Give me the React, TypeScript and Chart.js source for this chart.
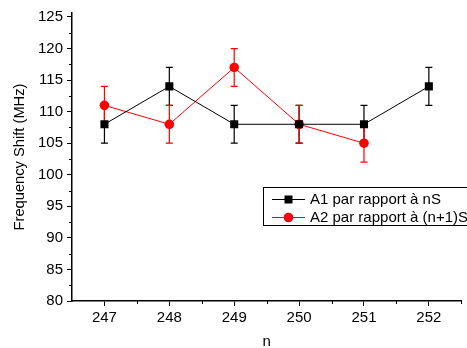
import React, { useEffect, useRef } from "react";
import { Chart, registerables } from "chart.js";

Chart.register(...registerables);

const categories = [247, 248, 249, 250, 251, 252];
const a1Values = [108, 114, 108, 108, 108, 114];
const a1Errors = [3, 3, 3, 3, 3, 3];
const a2Categories = [247, 248, 249, 250, 251];
const a2Values = [111, 108, 117, 108, 105];
const a2Errors = [3, 3, 3, 3, 3];
const yTickValues = [80, 85, 90, 95, 100, 105, 110, 115, 120, 125];
const seriesLabels = ["A1 par rapport à nS", "A2 par rapport à (n+1)S"];
const xTitle = "n";
const yTitle = "Frequency Shift (MHz)";

const FONT = "'Liberation Sans', Arial, sans-serif";

const errorBarPlugin = {
  id: "errorBars",
  beforeDatasetsDraw(chart: any) {
    const ctx = chart.ctx;
    const xs = chart.scales.x;
    const ys = chart.scales.y;
    chart.data.datasets.forEach((ds: any) => {
      const errs: number[] = ds.errors || [];
      ctx.save();
      ctx.strokeStyle = ds.borderColor;
      ctx.lineWidth = 1.2;
      ds.data.forEach((p: any, i: number) => {
        const e = errs[i];
        if (e == null) return;
        const x = xs.getPixelForValue(p.x);
        const yt = ys.getPixelForValue(p.y + e);
        const yb = ys.getPixelForValue(p.y - e);
        ctx.beginPath();
        ctx.moveTo(x, yt);
        ctx.lineTo(x, yb);
        ctx.moveTo(x - 3.5, yt);
        ctx.lineTo(x + 3.5, yt);
        ctx.moveTo(x - 3.5, yb);
        ctx.lineTo(x + 3.5, yb);
        ctx.stroke();
      });
      ctx.restore();
    });
  },
};

const minorTickPlugin = {
  id: "minorTicks",
  afterDraw(chart: any) {
    const ctx = chart.ctx;
    const xs = chart.scales.x;
    const ys = chart.scales.y;
    const area = chart.chartArea;
    ctx.save();
    ctx.strokeStyle = "#000";
    ctx.lineWidth = 1;
    ctx.beginPath();
    for (let v = categories[0] - 0.5; v <= categories[categories.length - 1] + 0.5; v += 1) {
      const x = Math.round(xs.getPixelForValue(v)) + 0.5;
      if (x < area.left + 1) continue;
      ctx.moveTo(x, area.bottom);
      ctx.lineTo(x, area.bottom + 3);
    }
    for (let i = 0; i < yTickValues.length - 1; i++) {
      const v = (yTickValues[i] + yTickValues[i + 1]) / 2;
      const y = Math.round(ys.getPixelForValue(v)) + 0.5;
      ctx.moveTo(area.left, y);
      ctx.lineTo(area.left - 3, y);
    }
    ctx.stroke();
    ctx.restore();
  },
};

const legendPlugin = {
  id: "customLegend",
  afterDraw(chart: any) {
    const ctx = chart.ctx;
    const bx = 263;
    const by = 187;
    const bw = 230;
    const bh = 38;
    ctx.save();
    ctx.fillStyle = "#fff";
    ctx.fillRect(bx, by, bw, bh);
    ctx.strokeStyle = "#000";
    ctx.lineWidth = 1;
    ctx.strokeRect(bx + 0.5, by + 0.5, bw, bh);
    chart.data.datasets.forEach((ds: any, i: number) => {
      const y = by + 12 + i * 18;
      ctx.strokeStyle = ds.borderColor;
      ctx.lineWidth = 1;
      ctx.beginPath();
      ctx.moveTo(272, y + 0.5);
      ctx.lineTo(305, y + 0.5);
      ctx.stroke();
      ctx.fillStyle = ds.backgroundColor;
      if (ds.pointStyle === "rect") {
        ctx.fillRect(284.5, y - 3.5, 8, 8);
      } else {
        ctx.beginPath();
        ctx.arc(288.5, y + 0.5, 4.8, 0, Math.PI * 2);
        ctx.fill();
      }
      ctx.fillStyle = "#000";
      ctx.font = `15px ${FONT}`;
      ctx.textBaseline = "middle";
      ctx.textAlign = "left";
      ctx.fillText(ds.label, 310, y + 1);
    });
    ctx.restore();
  },
};

export default function App() {
  const ref = useRef<HTMLCanvasElement>(null);
  useEffect(() => {
    document.body.style.margin = "0";
    const chart = new Chart(ref.current!, {
      type: "line",
      data: {
        datasets: [
          {
            label: seriesLabels[0],
            data: categories.map((c, i) => ({ x: c, y: a1Values[i] })),
            errors: a1Errors,
            borderColor: "#000",
            backgroundColor: "#000",
            borderWidth: 1,
            pointStyle: "rect",
            pointRadius: 5.7,
            pointBorderWidth: 0,
            tension: 0,
          } as any,
          {
            label: seriesLabels[1],
            data: a2Categories.map((c, i) => ({ x: c, y: a2Values[i] })),
            errors: a2Errors,
            borderColor: "#ff0000",
            backgroundColor: "#ff0000",
            borderWidth: 1,
            pointStyle: "circle",
            pointRadius: 4.8,
            pointBorderWidth: 0,
            tension: 0,
          } as any,
        ],
      },
      options: {
        animation: false,
        responsive: false,
        maintainAspectRatio: false,
        layout: { padding: { top: 8, right: 1, left: 0, bottom: 0 } },
        plugins: { legend: { display: false }, tooltip: { enabled: false } },
        scales: {
          x: {
            type: "linear",
            min: categories[0] - 0.5,
            max: categories[categories.length - 1] + 0.5,
            afterBuildTicks: (s: any) => {
              s.ticks = categories.map((v) => ({ value: v }));
            },
            afterFit: (s: any) => {
              s.height = 47;
            },
            grid: { drawOnChartArea: false, drawTicks: true, tickLength: 5, color: "#000", tickWidth: 1 },
            border: { display: true, color: "#000", width: 1.5 },
            ticks: { color: "#000", font: { family: FONT, size: 15 }, padding: 3, maxRotation: 0, autoSkip: false },
            title: { display: true, text: xTitle, color: "#000", font: { family: FONT, size: 15 }, padding: { top: 0, bottom: -3 } },
          },
          y: {
            type: "linear",
            min: 80,
            max: 125.63,
            afterBuildTicks: (s: any) => {
              s.ticks = yTickValues.map((v) => ({ value: v }));
            },
            afterFit: (s: any) => {
              s.width = 72;
            },
            grid: { drawOnChartArea: false, drawTicks: true, tickLength: 5, color: "#000", tickWidth: 1 },
            border: { display: true, color: "#000", width: 1.5 },
            ticks: { color: "#000", font: { family: FONT, size: 15 }, padding: 4 },
            title: { display: true, text: yTitle, color: "#000", font: { family: FONT, size: 14.7 }, padding: { top: 11, bottom: 0 } },
          },
        },
      },
      plugins: [errorBarPlugin, minorTickPlugin, legendPlugin],
    } as any);
    return () => chart.destroy();
  }, []);
  return (
    <div style={{ width: 467, height: 348 }}>
      <canvas ref={ref} width={467} height={348} style={{ display: "block", width: 467, height: 348 }} />
    </div>
  );
}
